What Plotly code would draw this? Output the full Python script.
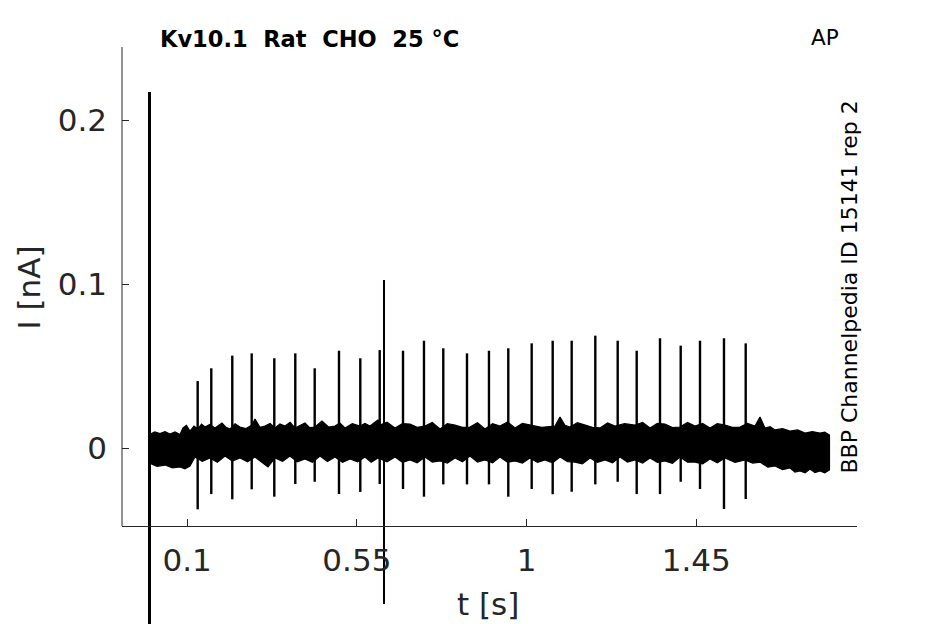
import plotly.graph_objects as go

# ---------------- data ----------------
# regular spikes: time [s], peak [nA], trough [nA]
spike_t = [0.1278, 0.1639, 0.2196, 0.2711, 0.3310, 0.3867, 0.4382, 0.5026, 0.5591,
           0.6106, 0.6724, 0.7280, 0.7792, 0.8421, 0.9004, 0.9516, 1.0137, 1.0694,
           1.1198, 1.1824, 1.2418, 1.2922, 1.3540, 1.4089, 1.4601, 1.5237, 1.5813]
spike_peak = [0.0410, 0.0488, 0.0565, 0.0579, 0.0549, 0.0579, 0.0488, 0.0595, 0.0549,
              0.0599, 0.0595, 0.0656, 0.0610, 0.0579, 0.0595, 0.0610, 0.0640, 0.0656,
              0.0656, 0.0687, 0.0656, 0.0595, 0.0671, 0.0626, 0.0656, 0.0671, 0.0640]
spike_trough = [-0.0372, -0.0279, -0.0311, -0.0250, -0.0295, -0.0218, -0.0204, -0.0279, -0.0266,
                -0.0218, -0.0248, -0.0295, -0.0220, -0.0220, -0.0220, -0.0295, -0.0248, -0.0280,
                -0.0265, -0.0220, -0.0204, -0.0279, -0.0279, -0.0204, -0.0248, -0.0370, -0.0309]

# large artifacts
artifact_t = [0.0, 0.6220]
artifact_peak = [0.2172, 0.1026]
artifact_trough = [-0.1300, -0.0949]

# noise envelope (upper and lower ragged edge of the noisy baseline)
upper_t = [0.0000, 0.0139, 0.0278, 0.0411, 0.0544, 0.0677, 0.0809, 0.0889, 0.0980, 0.1074,
           0.1180, 0.1286, 0.1380, 0.1472, 0.1600, 0.1737, 0.1923, 0.2030, 0.2135, 0.2270,
           0.2400, 0.2560, 0.2719, 0.2798, 0.2930, 0.3063, 0.3200, 0.3329, 0.3460, 0.3594,
           0.3730, 0.3859, 0.4124, 0.4250, 0.4389, 0.4575, 0.4750, 0.4920, 0.5050, 0.5185,
           0.5380, 0.5583, 0.5715, 0.5848, 0.6060, 0.6113, 0.6300, 0.6511, 0.6710, 0.6909,
           0.7100, 0.7307, 0.7500, 0.7705, 0.7900, 0.8103, 0.8300, 0.8500, 0.8700, 0.8898,
           0.9100, 0.9296, 0.9500, 0.9694, 0.9890, 1.0092, 1.0400, 1.0755, 1.0888, 1.1020,
           1.1153, 1.1350, 1.1551, 1.1750, 1.1949, 1.2150, 1.2346, 1.2600, 1.2877, 1.3080,
           1.3275, 1.3470, 1.3672, 1.3870, 1.4070, 1.4270, 1.4468, 1.4670, 1.4866, 1.5060,
           1.5264, 1.5460, 1.5662, 1.5860, 1.6060, 1.6192, 1.6325, 1.6460, 1.6590, 1.6790,
           1.6988, 1.7190, 1.7386, 1.7580, 1.7784, 1.7910, 1.8035]
upper_i = [0.0084, 0.0100, 0.0090, 0.0102, 0.0087, 0.0100, 0.0084, 0.0124, 0.0140, 0.0105,
           0.0135, 0.0118, 0.0148, 0.0130, 0.0145, 0.0124, 0.0154, 0.0128, 0.0118, 0.0150,
           0.0130, 0.0120, 0.0142, 0.0179, 0.0128, 0.0136, 0.0152, 0.0124, 0.0148, 0.0136,
           0.0158, 0.0124, 0.0154, 0.0126, 0.0130, 0.0166, 0.0130, 0.0136, 0.0155, 0.0124,
           0.0150, 0.0136, 0.0152, 0.0136, 0.0173, 0.0142, 0.0160, 0.0124, 0.0150, 0.0148,
           0.0128, 0.0136, 0.0158, 0.0118, 0.0150, 0.0142, 0.0128, 0.0130, 0.0156, 0.0118,
           0.0150, 0.0136, 0.0160, 0.0124, 0.0152, 0.0142, 0.0128, 0.0136, 0.0191, 0.0140,
           0.0130, 0.0156, 0.0142, 0.0128, 0.0124, 0.0155, 0.0136, 0.0150, 0.0142, 0.0158,
           0.0124, 0.0152, 0.0148, 0.0126, 0.0130, 0.0158, 0.0136, 0.0152, 0.0124, 0.0150,
           0.0142, 0.0128, 0.0130, 0.0152, 0.0136, 0.0191, 0.0124, 0.0132, 0.0112, 0.0120,
           0.0105, 0.0112, 0.0093, 0.0102, 0.0093, 0.0098, 0.0081]
lower_t = [0.0000, 0.0200, 0.0411, 0.0610, 0.0809, 0.0940, 0.1074, 0.1207, 0.1400, 0.1605,
           0.1800, 0.2003, 0.2200, 0.2400, 0.2600, 0.2798, 0.3143, 0.3329, 0.3530, 0.3726,
           0.3920, 0.4124, 0.4320, 0.4522, 0.4720, 0.4920, 0.5120, 0.5318, 0.5520, 0.5716,
           0.5880, 0.6060, 0.6300, 0.6511, 0.6710, 0.6909, 0.7100, 0.7307, 0.7500, 0.7705,
           0.7900, 0.8103, 0.8300, 0.8500, 0.8700, 0.8898, 0.9100, 0.9296, 0.9500, 0.9694,
           0.9890, 1.0092, 1.0290, 1.0490, 1.0690, 1.0888, 1.1090, 1.1286, 1.1480, 1.1684,
           1.1880, 1.2081, 1.2280, 1.2479, 1.2680, 1.2877, 1.3080, 1.3275, 1.3470, 1.3672,
           1.3870, 1.4070, 1.4270, 1.4468, 1.4670, 1.4866, 1.5060, 1.5264, 1.5530, 1.5794,
           1.6000, 1.6192, 1.6400, 1.6590, 1.6790, 1.6988, 1.7120, 1.7253, 1.7390, 1.7518,
           1.7650, 1.7784, 1.7910, 1.8035]
lower_i = [-0.0090, -0.0110, -0.0102, -0.0120, -0.0114, -0.0125, -0.0108, -0.0053, -0.0080, -0.0059,
           -0.0085, -0.0047, -0.0078, -0.0059, -0.0082, -0.0053, -0.0114, -0.0059, -0.0080, -0.0047,
           -0.0082, -0.0065, -0.0085, -0.0047, -0.0080, -0.0053, -0.0086, -0.0065, -0.0082, -0.0053,
           -0.0085, -0.0059, -0.0082, -0.0053, -0.0086, -0.0071, -0.0088, -0.0053, -0.0084, -0.0077,
           -0.0090, -0.0059, -0.0082, -0.0047, -0.0084, -0.0071, -0.0088, -0.0053, -0.0085, -0.0077,
           -0.0090, -0.0059, -0.0086, -0.0071, -0.0088, -0.0053, -0.0082, -0.0084, -0.0095, -0.0059,
           -0.0086, -0.0071, -0.0088, -0.0053, -0.0084, -0.0071, -0.0090, -0.0059, -0.0086, -0.0077,
           -0.0092, -0.0053, -0.0085, -0.0084, -0.0095, -0.0065, -0.0088, -0.0059, -0.0086, -0.0071,
           -0.0090, -0.0084, -0.0115, -0.0108, -0.0130, -0.0120, -0.0145, -0.0138, -0.0150, -0.0126,
           -0.0148, -0.0138, -0.0150, -0.0132]

x_ticks = [0.1, 0.55, 1, 1.45]
x_ticklabels = ["0.1", "0.55", "1", "1.45"]
y_ticks = [0, 0.1, 0.2]
y_ticklabels = ["0", "0.1", "0.2"]

title_text = "Kv10.1\u00a0\u00a0Rat\u00a0\u00a0CHO\u00a0\u00a025\u00a0°C"
protocol_text = "AP"
side_text = "BBP Channelpedia ID 15141 rep 2"
x_label = "t [s]"
y_label = "I [nA]"

# ---------------- layout constants ----------------
# the page body adds an 8 px offset, so the figure is 8 px smaller each way
OFF = 8
W, H = 945 - OFF, 624 - OFF
ML, MR, MT, MB = 122 - OFF, 88, 47 - OFF, 0
X_RANGE = [-0.0729, 1.8765]
Y_RANGE = [-0.10713, 0.2447]
Y_AXIS_BOTTOM = -0.0474          # where the drawn x axis sits
PLOT_H = H - MT - MB
PLOT_W = W - ML - MR
X_AXIS_POS = (624 - 526) / PLOT_H


def px_x(px):  # screenshot pixel -> paper x
    return (px - OFF - ML) / PLOT_W


def px_y(py):  # screenshot pixel -> paper y
    return (H + OFF - MB - py) / PLOT_H


FONT = "DejaVu Sans"
GREY = "#262626"

fig = go.Figure()

# noisy baseline as a filled envelope
poly_t = upper_t + lower_t[::-1] + [upper_t[0]]
poly_i = upper_i + lower_i[::-1] + [upper_i[0]]
fig.add_trace(go.Scatter(x=poly_t, y=poly_i, mode="lines", fill="toself",
                         fillcolor="black", line=dict(color="black", width=1.2),
                         hoverinfo="skip", showlegend=False))

# spikes
sx, sy = [], []
for t, p, tr in zip(spike_t, spike_peak, spike_trough):
    sx += [t, t, None]
    sy += [tr, p, None]
fig.add_trace(go.Scatter(x=sx, y=sy, mode="lines", line=dict(color="black", width=2.4),
                         hoverinfo="skip", showlegend=False))

# artifacts
for t, p, tr, w in zip(artifact_t, artifact_peak, artifact_trough, [3, 2]):
    fig.add_trace(go.Scatter(x=[t, t], y=[tr, p], mode="lines",
                             line=dict(color="black", width=w),
                             hoverinfo="skip", showlegend=False))

fig.update_layout(
    width=W, height=H,
    margin=dict(l=ML, r=MR, t=MT, b=MB, pad=0),
    paper_bgcolor="white", plot_bgcolor="white",
    font=dict(family=FONT, color=GREY),
    showlegend=False,
    xaxis=dict(range=X_RANGE, anchor="free", position=X_AXIS_POS,
               showgrid=False, zeroline=False,
               showline=True, linecolor=GREY, linewidth=1,
               ticks="inside", ticklen=7, tickwidth=1, tickcolor=GREY,
               tickvals=x_ticks, ticktext=x_ticklabels,
               tickfont=dict(size=31, color=GREY, family=FONT),
               ticklabelstandoff=7),
    yaxis=dict(range=Y_RANGE, showgrid=False, zeroline=False, showline=False,
               ticks="inside", ticklen=7, tickwidth=1, tickcolor=GREY,
               tickvals=y_ticks, ticktext=y_ticklabels,
               tickfont=dict(size=31, color=GREY, family=FONT),
               ticklabelstandoff=14),
    shapes=[dict(type="line", xref="paper", yref="y", x0=0, x1=0,
                 y0=Y_AXIS_BOTTOM, y1=Y_RANGE[1],
                 line=dict(color=GREY, width=1))],
    annotations=[
        dict(text="<b>" + title_text + "</b>", xref="paper", yref="paper",
             x=px_x(158), y=px_y(39), xanchor="left", yanchor="middle",
             showarrow=False, font=dict(size=22.5, color="black", family=FONT)),
        dict(text=protocol_text, xref="paper", yref="paper",
             x=px_x(825), y=px_y(37.5), xanchor="center", yanchor="middle",
             showarrow=False, font=dict(size=21.5, color="black", family=FONT)),
        dict(text=side_text, xref="paper", yref="paper", textangle=-90,
             x=px_x(849), y=px_y(287.5), xanchor="center", yanchor="middle",
             showarrow=False, font=dict(size=22, color="black", family=FONT)),
        dict(text=y_label, xref="paper", yref="paper", textangle=-90,
             x=px_x(28), y=px_y(287.5), xanchor="center", yanchor="middle",
             showarrow=False, font=dict(size=31, color=GREY, family=FONT)),
        dict(text=x_label, xref="paper", yref="paper",
             x=px_x(488), y=px_y(604), xanchor="center", yanchor="middle",
             showarrow=False, font=dict(size=31, color=GREY, family=FONT)),
    ],
)

fig.write_html("out.html")
